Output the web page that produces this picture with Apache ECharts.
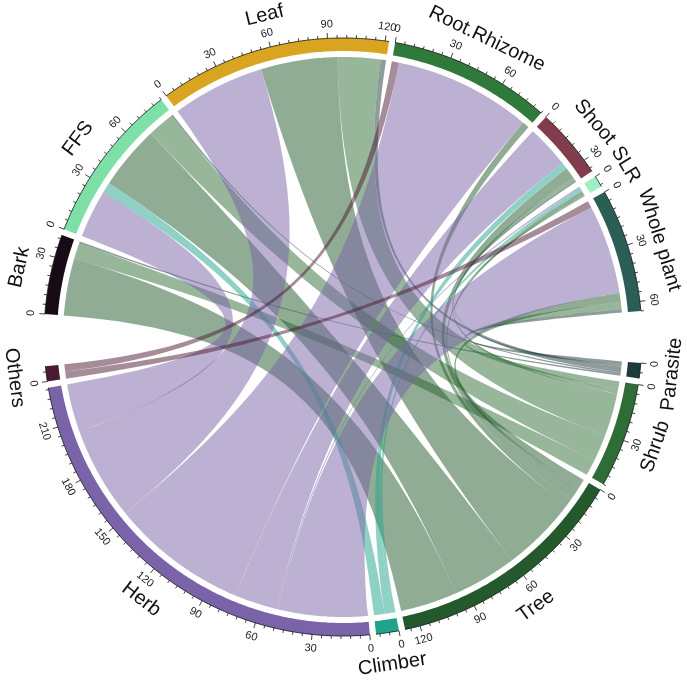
<!DOCTYPE html>
<html>
<head>
<meta charset="utf-8">
<script src="https://cdn.jsdelivr.net/npm/echarts@6.0.0/dist/echarts.min.js"></script>
<style>
  html, body { margin: 0; padding: 0; background: #fff; }
  #chart { width: 687px; height: 681px; }
</style>
</head>
<body>
<div id="chart"></div>
<script>
// 扇区名称：生长型(行) 和 药用部位(列)
const habits = ['Parasite', 'Shrub', 'Tree', 'Climber', 'Herb', 'Others']
const parts = ['Bark', 'FFS', 'Leaf', 'Root.Rhizome', 'Shoot', 'SLR', 'Whole plant']

// 每个生长型在各部位上的数量 (顺序同 parts)
const parasiteRow = [1, 1, 3, 0, 1, 0, 2]
const shrubRow = [9, 15, 24, 0, 2, 1, 4]
const treeRow = [32, 36, 43, 4, 6, 2, 5]
const climberRow = [0, 6, 0, 0, 4, 2, 0]
const herbRow = [0, 27, 52, 77, 24, 1, 50]
const othersRow = [0, 0, 0, 4, 0, 0, 4]

// 刻度间隔
const majorStep = 30
const minorStep = 5

// 颜色
const habitColors = ['#1e3b3a', '#2f6d36', '#24592c', '#1fa38c', '#7a63a8', '#4d1a33']
const partColors = ['#170c16', '#7ee0a6', '#d9a41f', '#2f7a3b', '#813d4b', '#9cf0c2', '#2b5e55']

// 半径 (px)
const R_OUT = 299
const R_IN = 286
const R_LINK = 280
const K = 0.25 // 连线控制点靠近圆心的程度
const FONT = '"Liberation Sans", Arial, sans-serif'

const names = habits.concat(parts)
const colors = habitColors.concat(partColors)
const rows = [parasiteRow, shrubRow, treeRow, climberRow, herbRow, othersRow]
const N = names.length

// 连线列表
const links = []
rows.forEach((row, i) => {
  row.forEach((v, j) => {
    if (v > 0) links.push({ s: i, t: habits.length + j, v: v })
  })
})

// 每个扇区的总量
const totals = names.map((_, k) =>
  links.reduce((acc, l) => acc + (l.s === k || l.t === k ? l.v : 0), 0))

// 扇区角度布局 (度, 顺时针, 0 = 正东)
const smallGap = 1.2
const bigGap = 10
const gapAfter = names.map((_, k) => (k === habits.length - 1 || k === N - 1) ? bigGap : smallGap)
const unit = (360 - gapAfter.reduce((a, b) => a + b, 0)) / totals.reduce((a, b) => a + b, 0)
const secStart = []
const secEnd = []
let pos = bigGap / 2
names.forEach((_, k) => {
  secStart[k] = pos
  pos += totals[k] * unit
  secEnd[k] = pos
  pos += gapAfter[k]
})

// 每条连线在两端扇区里的位置, 按另一端逆时针距离排序 (减少交叉)
const slot = {}
names.forEach((_, k) => {
  const mine = []
  links.forEach((l, idx) => {
    if (l.s === k) mine.push({ idx: idx, other: l.t, v: l.v })
    else if (l.t === k) mine.push({ idx: idx, other: l.s, v: l.v })
  })
  mine.sort((a, b) => ((k - a.other + N) % N) - ((k - b.other + N) % N))
  let a = secStart[k]
  mine.forEach(o => {
    slot[o.idx + '_' + k] = [a, a + o.v * unit]
    a += o.v * unit
  })
})

function arcPts(api, r, a0, a1) {
  const n = Math.max(2, Math.ceil(Math.abs(a1 - a0) / 0.5) + 1)
  const pts = []
  for (let i = 0; i < n; i++) {
    pts.push(api.coord([r, a0 + (a1 - a0) * i / (n - 1)]))
  }
  return pts
}

// 文字沿切线方向, 并保证可读
function textRot(theta) {
  let phi = theta + 90
  while (phi > 180) phi -= 360
  while (phi <= -180) phi += 360
  if (phi > 90) phi -= 180
  if (phi < -90) phi += 180
  return -phi * Math.PI / 180
}

function renderLink(params, api) {
  const idx = params.dataIndex
  const l = links[idx]
  const sa = slot[idx + '_' + l.s]
  const ta = slot[idx + '_' + l.t]
  const c = api.coord([0, 0])
  const ctrl = a => {
    const q = api.coord([R_LINK, a])
    return [c[0] + K * (q[0] - c[0]), c[1] + K * (q[1] - c[1])]
  }
  let d = ''
  arcPts(api, R_LINK, sa[0], sa[1]).forEach((q, i) => { d += (i ? 'L' : 'M') + q[0] + ' ' + q[1] + ' ' })
  let c1 = ctrl(sa[1]), c2 = ctrl(ta[0]), e = api.coord([R_LINK, ta[0]])
  d += 'C' + c1[0] + ' ' + c1[1] + ' ' + c2[0] + ' ' + c2[1] + ' ' + e[0] + ' ' + e[1] + ' '
  arcPts(api, R_LINK, ta[0], ta[1]).forEach(q => { d += 'L' + q[0] + ' ' + q[1] + ' ' })
  c1 = ctrl(ta[1]); c2 = ctrl(sa[0]); e = api.coord([R_LINK, sa[0]])
  d += 'C' + c1[0] + ' ' + c1[1] + ' ' + c2[0] + ' ' + c2[1] + ' ' + e[0] + ' ' + e[1] + ' Z'
  return {
    type: 'path',
    shape: { pathData: d },
    style: { fill: habitColors[l.s], opacity: 0.5 }
  }
}

function renderSector(params, api) {
  const k = params.dataIndex
  const a0 = secStart[k]
  const a1 = secEnd[k]
  const children = []
  // 色带
  const band = arcPts(api, R_OUT, a0, a1).concat(arcPts(api, R_IN, a1, a0))
  children.push({ type: 'polygon', shape: { points: band }, style: { fill: colors[k] } })
  // 坐标轴线
  children.push({
    type: 'polyline',
    shape: { points: arcPts(api, R_OUT, a0, a1) },
    style: { stroke: '#111', lineWidth: 0.8, fill: null }
  })
  // 刻度
  for (let v = 0; v <= totals[k] + 1e-9; v += minorStep) {
    const ang = a0 + v * unit
    const major = v % majorStep === 0
    const p1 = api.coord([R_OUT, ang])
    const p2 = api.coord([R_OUT + (major ? 5.5 : 3), ang])
    children.push({
      type: 'line',
      shape: { x1: p1[0], y1: p1[1], x2: p2[0], y2: p2[1] },
      style: { stroke: '#111', lineWidth: 0.8 }
    })
    if (major) {
      const pt = api.coord([R_OUT + 14, ang])
      children.push({
        type: 'text',
        x: pt[0], y: pt[1],
        rotation: textRot(ang),
        style: { text: String(v), fill: '#222', font: '11px ' + FONT, align: 'center', verticalAlign: 'middle' }
      })
    }
  }
  // 扇区名称
  const mid = (a0 + a1) / 2
  const lp = api.coord([R_OUT + 32, mid])
  children.push({
    type: 'text',
    x: lp[0], y: lp[1],
    rotation: textRot(mid),
    style: { text: names[k], fill: '#111', font: '20px ' + FONT, align: 'center', verticalAlign: 'middle' }
  })
  return { type: 'group', children: children }
}

const chart = echarts.init(document.getElementById('chart'))
const option = {
  animation: false,
  polar: { center: [343, 337], radius: R_OUT },
  angleAxis: { type: 'value', min: 0, max: 360, startAngle: 0, clockwise: true, show: false },
  radiusAxis: { type: 'value', min: 0, max: R_OUT, show: false },
  series: [
    {
      type: 'custom',
      coordinateSystem: 'polar',
      clip: false,
      silent: true,
      renderItem: renderLink,
      data: links.map(() => [0, 0])
    },
    {
      type: 'custom',
      coordinateSystem: 'polar',
      clip: false,
      silent: true,
      renderItem: renderSector,
      data: names.map(() => [0, 0])
    }
  ]
}
chart.setOption(option)
</script>
</body>
</html>
